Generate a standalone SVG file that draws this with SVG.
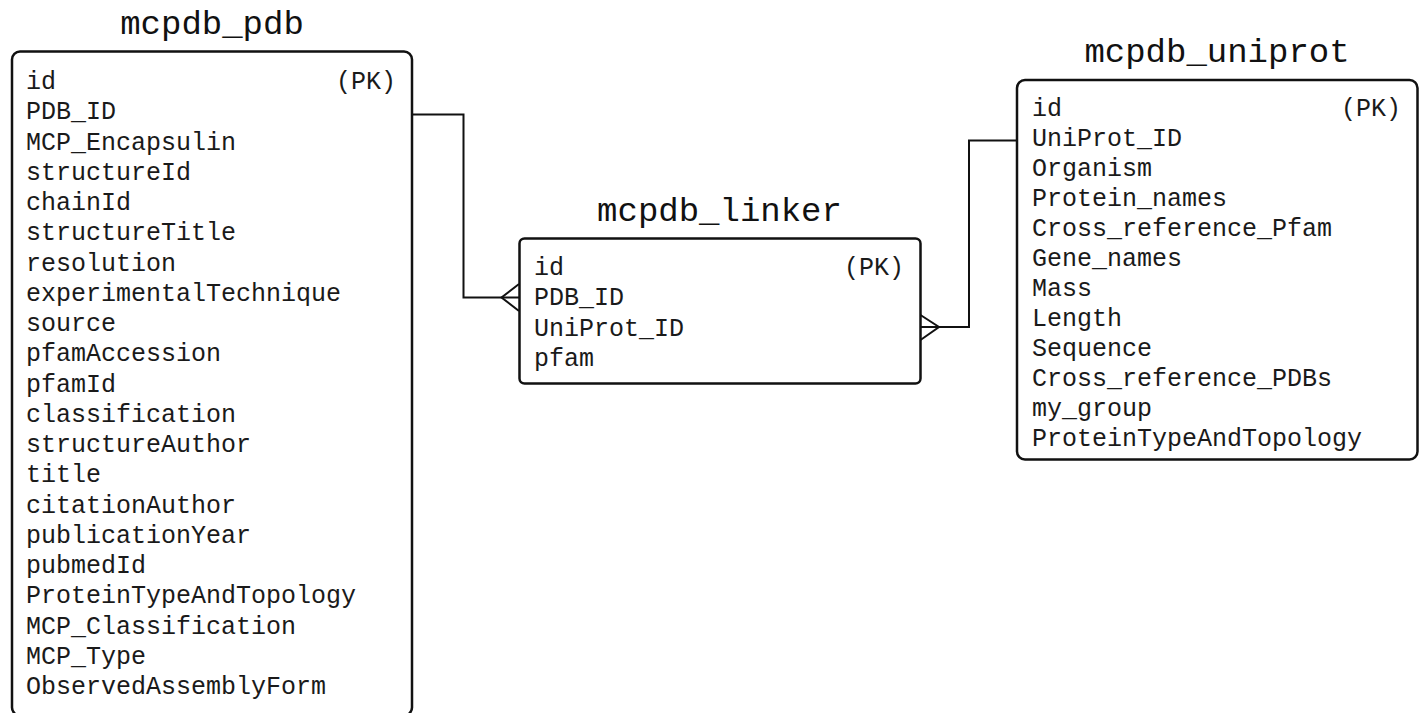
<svg xmlns="http://www.w3.org/2000/svg" width="1423" height="713" viewBox="0 0 1423 713">
<style>
.box{fill:#fff;stroke:#111;stroke-width:2.5}
.title{font-family:"Liberation Mono","Courier New",monospace;font-size:34px;fill:#111;text-anchor:middle}
.row{font-family:"Liberation Mono","Courier New",monospace;font-size:25px;fill:#1a1a1a}
.pk{text-anchor:end}
.conn{fill:none;stroke:#111;stroke-width:2}
</style>
<rect width="1423" height="713" fill="#fff"/>
<g id="connectors">
<polyline class="conn" points="412,114.5 463.5,114.5 463.5,297.5 519,297.5"/>
<polyline class="conn" points="519,284 501.5,297.5 519,311"/>
<polyline class="conn" points="1017,140.5 969,140.5 969,327 920.5,327"/>
<polyline class="conn" points="920.5,315 939,327 920.5,340"/>
</g>
<g id="mcpdb_pdb">
<text class="title" x="212" y="34">mcpdb_pdb</text>
<rect class="box" x="12" y="51.5" width="400" height="664" rx="8"/>
<text class="row" x="26" y="89">id</text>
<text class="row pk" x="396" y="89">(PK)</text>
<text class="row" x="26" y="119.25">PDB_ID</text>
<text class="row" x="26" y="149.5">MCP_Encapsulin</text>
<text class="row" x="26" y="179.75">structureId</text>
<text class="row" x="26" y="210">chainId</text>
<text class="row" x="26" y="240.25">structureTitle</text>
<text class="row" x="26" y="270.5">resolution</text>
<text class="row" x="26" y="300.75">experimentalTechnique</text>
<text class="row" x="26" y="331">source</text>
<text class="row" x="26" y="361.25">pfamAccession</text>
<text class="row" x="26" y="391.5">pfamId</text>
<text class="row" x="26" y="421.75">classification</text>
<text class="row" x="26" y="452">structureAuthor</text>
<text class="row" x="26" y="482.25">title</text>
<text class="row" x="26" y="512.5">citationAuthor</text>
<text class="row" x="26" y="542.75">publicationYear</text>
<text class="row" x="26" y="573">pubmedId</text>
<text class="row" x="26" y="603.25">ProteinTypeAndTopology</text>
<text class="row" x="26" y="633.5">MCP_Classification</text>
<text class="row" x="26" y="663.75">MCP_Type</text>
<text class="row" x="26" y="694">ObservedAssemblyForm</text>
</g>
<g id="mcpdb_linker">
<text class="title" x="719.5" y="221">mcpdb_linker</text>
<rect class="box" x="519.5" y="238.5" width="401" height="145" rx="5"/>
<text class="row" x="534" y="275">id</text>
<text class="row pk" x="904" y="275">(PK)</text>
<text class="row" x="534" y="305.25">PDB_ID</text>
<text class="row" x="534" y="335.5">UniProt_ID</text>
<text class="row" x="534" y="365.75">pfam</text>
</g>
<g id="mcpdb_uniprot">
<text class="title" x="1217" y="62">mcpdb_uniprot</text>
<rect class="box" x="1017" y="80" width="400.5" height="379.5" rx="8"/>
<text class="row" x="1032" y="116">id</text>
<text class="row pk" x="1401" y="116">(PK)</text>
<text class="row" x="1032" y="146">UniProt_ID</text>
<text class="row" x="1032" y="176">Organism</text>
<text class="row" x="1032" y="206">Protein_names</text>
<text class="row" x="1032" y="236">Cross_reference_Pfam</text>
<text class="row" x="1032" y="266">Gene_names</text>
<text class="row" x="1032" y="296">Mass</text>
<text class="row" x="1032" y="326">Length</text>
<text class="row" x="1032" y="356">Sequence</text>
<text class="row" x="1032" y="386">Cross_reference_PDBs</text>
<text class="row" x="1032" y="416">my_group</text>
<text class="row" x="1032" y="446">ProteinTypeAndTopology</text>
</g>
</svg>
